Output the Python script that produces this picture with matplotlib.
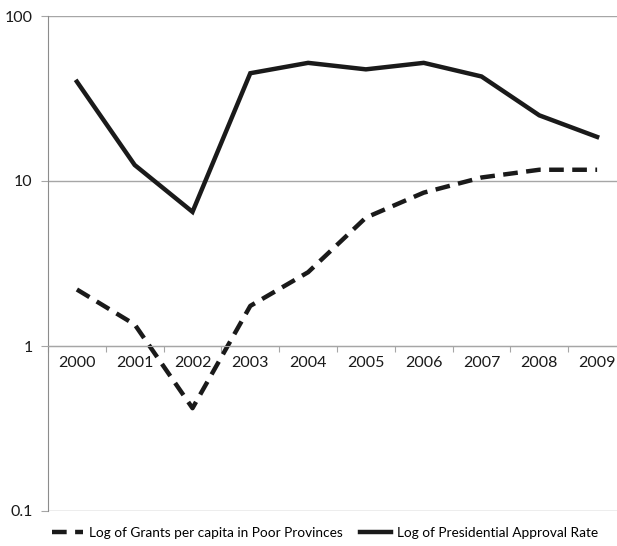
import matplotlib.pyplot as plt
import numpy as np

years = ['2000', '2001', '2002', '2003', '2004', '2005', '2006', '2007', '2008', '2009']
grants = [2.2, 1.35, 0.42, 1.75, 2.8, 6.0, 8.5, 10.5, 11.7, 11.7]
approval = [40, 12.5, 6.5, 45, 52, 47.5, 52, 43, 25, 18.5]
y_ticks = [0.1, 1, 10, 100]
y_labels = ['0.1', '1', '10', '100']

plt.rcParams['font.family'] = ['Lato', 'DejaVu Sans']

fig = plt.figure(figsize=(6.17, 5.46), dpi=100)
# plot area runs a bit past the right edge, as in the reference
ax = fig.add_axes([48 / 617, 35 / 546, 578 / 617, 495 / 546])

x = np.arange(len(years))
line_col = '#1a1a1a'
ax.plot(x, grants, color=line_col, lw=3.2, linestyle=(0, (3.3, 1.9)),
        label='Log of Grants per capita in Poor Provinces')
ax.plot(x, approval, color=line_col, lw=3.2, solid_joinstyle='miter',
        label='Log of Presidential Approval Rate')

ax.set_yscale('log')
ax.set_ylim(0.1, 100)
ax.set_xlim(-0.5, len(years) - 0.5)
ax.set_yticks(y_ticks, labels=y_labels)
ax.minorticks_off()
ax.yaxis.grid(True, color='#a6a6a6', lw=1)
ax.set_axisbelow(True)

# category axis crosses at 1
ax.spines['bottom'].set_position(('data', 1))
ax.spines['bottom'].set_color('#a6a6a6')
ax.spines['left'].set_color('#8c8c8c')
ax.spines['top'].set_visible(False)
ax.spines['right'].set_visible(False)

ax.set_xticks(np.arange(len(years) + 1) - 0.5)
ax.set_xticklabels([])
ax.set_xticks(x, labels=years, minor=True)
ax.tick_params(axis='x', which='major', length=4, color='#a6a6a6', direction='out')
ax.tick_params(axis='x', which='minor', length=0, pad=7, labelsize=11.5, labelcolor='#1a1a1a')
ax.tick_params(axis='y', length=5, color='#a6a6a6', pad=6, labelsize=11.5, labelcolor='#1a1a1a')

fig.legend(loc='center', bbox_to_anchor=(325 / 617, 1 - 533 / 546), ncol=2,
           frameon=False, fontsize=9.8, handlelength=2.3, columnspacing=1.3,
           handletextpad=0.4)

fig.savefig('out.png', dpi=100)
